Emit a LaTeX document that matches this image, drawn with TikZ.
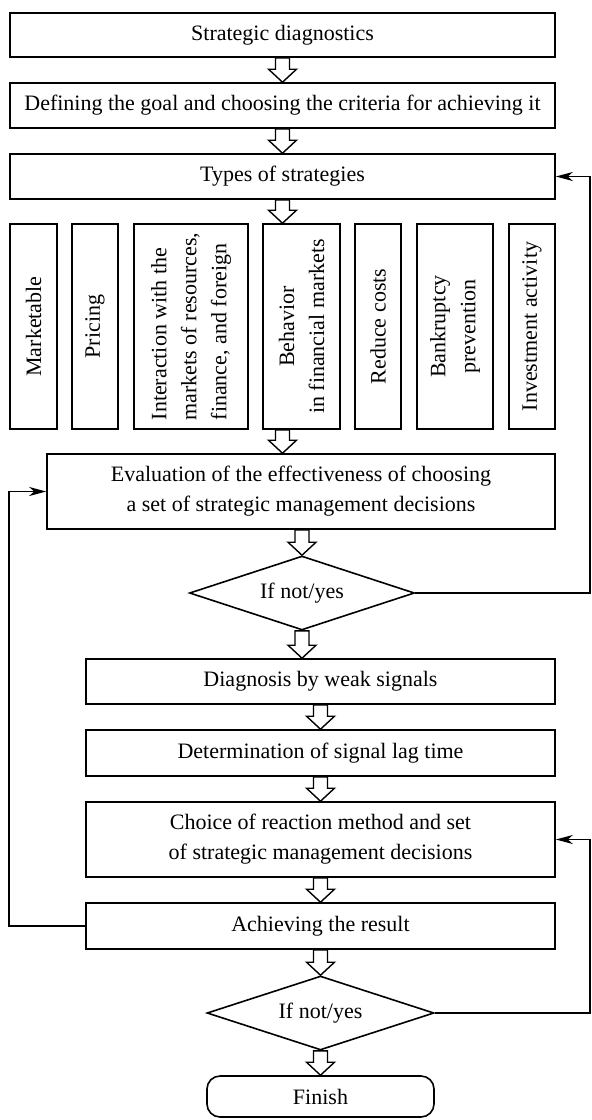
\documentclass[tikz,border=0pt]{standalone}
\usepackage{fontspec}
\setmainfont{Liberation Serif}
\usetikzlibrary{shapes.geometric,arrows.meta,calc}
\newcommand\holarrow[2]{\path[hol] let \p1=(#1), \p2=(#2) in (\x1-7pt,\y1) -- (\x1+7pt,\y1) -- (\x1+7pt,\y2+13pt) -- (\x1+14pt,\y2+13pt) -- (\x1,\y2) -- (\x1-14pt,\y2+13pt) -- (\x1-7pt,\y2+13pt) -- cycle;}
\begin{document}
\begin{tikzpicture}[x=1pt,y=-1pt,
  every node/.style={font=\fontsize{22}{30}\selectfont},
  box/.style={draw, line width=1.6pt, rectangle, inner sep=0pt, align=center},
  vbox/.style={box, rotate=90, minimum width=205pt},
  dec/.style={draw, line width=1.6pt, diamond, aspect=3, inner sep=0pt, minimum width=225pt, minimum height=74pt},
  hol/.style={draw, fill=white, line width=1.4pt, line join=miter},
  fb/.style={draw, line width=1.5pt, -{Stealth[length=17pt,width=9pt,inset=5pt]}},
]
\useasboundingbox (0,0) rectangle (592,1120);
\node[box, minimum width=545pt, minimum height=44pt] (b1) at (282.5,35) {Strategic diagnostics};
\node[box, minimum width=545pt, minimum height=45pt] (b2) at (282.5,105.5) {Defining the goal and choosing the criteria for achieving it};
\node[box, minimum width=545pt, minimum height=45pt] (b3) at (282.5,176.5) {Types of strategies};
\node[vbox, minimum height=47pt] (v1) at (33.5,326.5) {Marketable};
\node[vbox, minimum height=46pt] (v2) at (95,326.5) {Pricing};
\node[vbox, minimum height=114pt, align=left] (v3) at (191,326.5) {Interaction with the\\markets of resources,\\finance, and foreign};
\node[vbox, minimum height=77pt] (v4) at (301.5,326.5) {Behavior\\in financial markets};
\node[vbox, minimum height=46pt] (v5) at (378,326.5) {Reduce costs};
\node[vbox, minimum height=76pt] (v6) at (455,326.5) {Bankruptcy\\prevention};
\node[vbox, minimum height=46pt] (v7) at (532,326.5) {Investment activity};
\node[box, minimum width=508pt, minimum height=75pt] (ev) at (301,491.5) {Evaluation of the effectiveness of choosing\\a set of strategic management decisions};
\node[dec] (d1) at (302,593) {If not/yes};
\node[box, minimum width=469pt, minimum height=45pt] (dg) at (320.5,681.5) {Diagnosis by weak signals};
\node[box, minimum width=469pt, minimum height=46pt] (dt) at (320.5,753) {Determination of signal lag time};
\node[box, minimum width=469pt, minimum height=75pt] (ch) at (320.5,839.5) {Choice of reaction method and set\\of strategic management decisions};
\node[box, minimum width=469pt, minimum height=46pt] (ac) at (320.5,926) {Achieving the result};
\node[dec, minimum width=227pt] (d2) at (320.5,1013) {If not/yes};
\node[box, rounded corners=13pt, minimum width=227pt, minimum height=41pt] (fn) at (320.5,1096.5) {Finish};
\holarrow{b1.south}{b2.north}
\holarrow{b2.south}{b3.north}
\holarrow{b3.south}{b3.south |- v4.east}
\holarrow{b3.south |- v4.west}{b3.south |- ev.north}
\holarrow{d1.north |- ev.south}{d1.north}
\holarrow{d1.south}{d1.south |- dg.north}
\holarrow{dg.south}{dt.north}
\holarrow{dt.south}{ch.north}
\holarrow{ch.south}{ac.north}
\holarrow{ac.south}{d2.north}
\holarrow{d2.south}{fn.north}
\coordinate (rx) at (590,0);
\coordinate (lx) at (9,0);
\draw[fb] (d1.east) -- (d1.east -| rx) |- (b3.east);
\draw[fb] (d2.east) -- (d2.east -| rx) |- (ch.east);
\draw[fb] (ac.west) -- (ac.west -| lx) |- (ev.west);
\end{tikzpicture}
\end{document}
